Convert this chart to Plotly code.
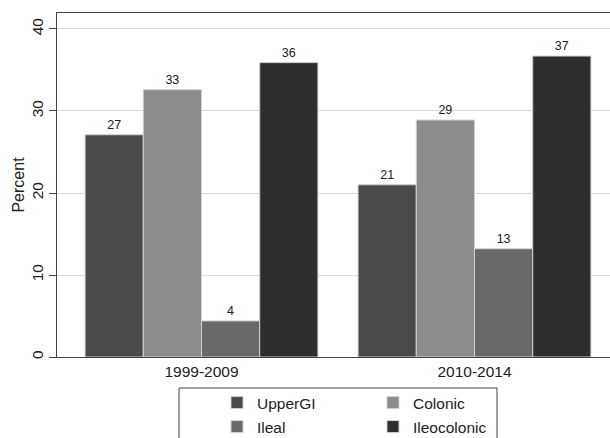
import plotly.graph_objects as go

periods = ["1999-2009", "2010-2014"]
series_names = ["UpperGI", "Colonic", "Ileal", "Ileocolonic"]
upper_gi = [27.1, 21.0]
colonic = [32.6, 28.9]
ileal = [4.4, 13.2]
ileocolonic = [35.9, 36.7]
colors = ["#4a4a4a", "#8c8c8c", "#696969", "#2e2e2e"]

values = [upper_gi, colonic, ileal, ileocolonic]
legend_ids = ["legend", "legend", "legend2", "legend2"]

FONT = "Liberation Sans, Arial, sans-serif"
# the figure is a little wider than the 610px window so the open right side of the frame falls off-screen
W, H = 620, 438
L, R, T, B = 57, 0, 13, 81
pw = W - L - R
ph = H - T - B

def px_x(x):
    return (x - L) / pw

def px_y(y):
    return (H - B - y) / ph

unit = 273.0
x_lo = -(201.5 - L) / unit
x_hi = x_lo + pw / unit

fig = go.Figure()
for name, vals, col, lg in zip(series_names, values, colors, legend_ids):
    fig.add_trace(go.Bar(
        x=periods, y=vals, name=name,
        marker=dict(color=col, line=dict(color="#d0d0d0", width=1)),
        text=[f"{round(v):d}" for v in vals],
        textposition="outside",
        textfont=dict(size=12.5, color="#222", family=FONT),
        cliponaxis=False,
        legend=lg,
    ))

fig.update_layout(
    width=W, height=H,
    margin=dict(l=L, r=R, t=T, b=B, autoexpand=False),
    paper_bgcolor="white", plot_bgcolor="white",
    barmode="group", bargap=0.147, bargroupgap=0,
    font=dict(family=FONT, color="#222"),
    xaxis=dict(
        type="category", range=[x_lo, x_hi], automargin=False,
        showline=True, linecolor="#444", linewidth=1, mirror=True,
        ticks="", tickfont=dict(size=15.5, color="#222"),
        showgrid=False,
    ),
    yaxis=dict(
        range=[0, 41.95], tickvals=[0, 10, 20, 30, 40], automargin=False,
        showline=True, linecolor="#444", linewidth=1,
        ticks="outside", ticklen=7, tickcolor="#444",
        tickangle=-90, tickfont=dict(size=15.5, color="#222"),
        showgrid=True, gridcolor="#dadada", gridwidth=1,
        zeroline=False,
        title=dict(text="Percent", font=dict(size=16, color="#222"), standoff=0),
    ),
    legend=dict(
        orientation="h", x=px_x(217), xanchor="left",
        y=px_y(403), yanchor="middle",
        entrywidth=111, entrywidthmode="pixels",
        font=dict(size=15.5, color="#222"), bgcolor="rgba(0,0,0,0)",
        borderwidth=0,
    ),
    legend2=dict(
        orientation="h", x=px_x(217), xanchor="left",
        y=px_y(427), yanchor="middle",
        entrywidth=111, entrywidthmode="pixels",
        font=dict(size=15.5, color="#222"), bgcolor="rgba(0,0,0,0)",
        borderwidth=0,
    ),
    shapes=[dict(
        type="rect", xref="paper", yref="paper",
        x0=px_x(179), x1=px_x(497), y0=px_y(388), y1=px_y(445),
        line=dict(color="#444", width=1), fillcolor="rgba(0,0,0,0)", layer="below",
    )],
)

fig.write_html(
    "out.html",
    config={"displayModeBar": False},
    post_script="document.body.style.margin='0';document.body.style.overflow='hidden';",
)
